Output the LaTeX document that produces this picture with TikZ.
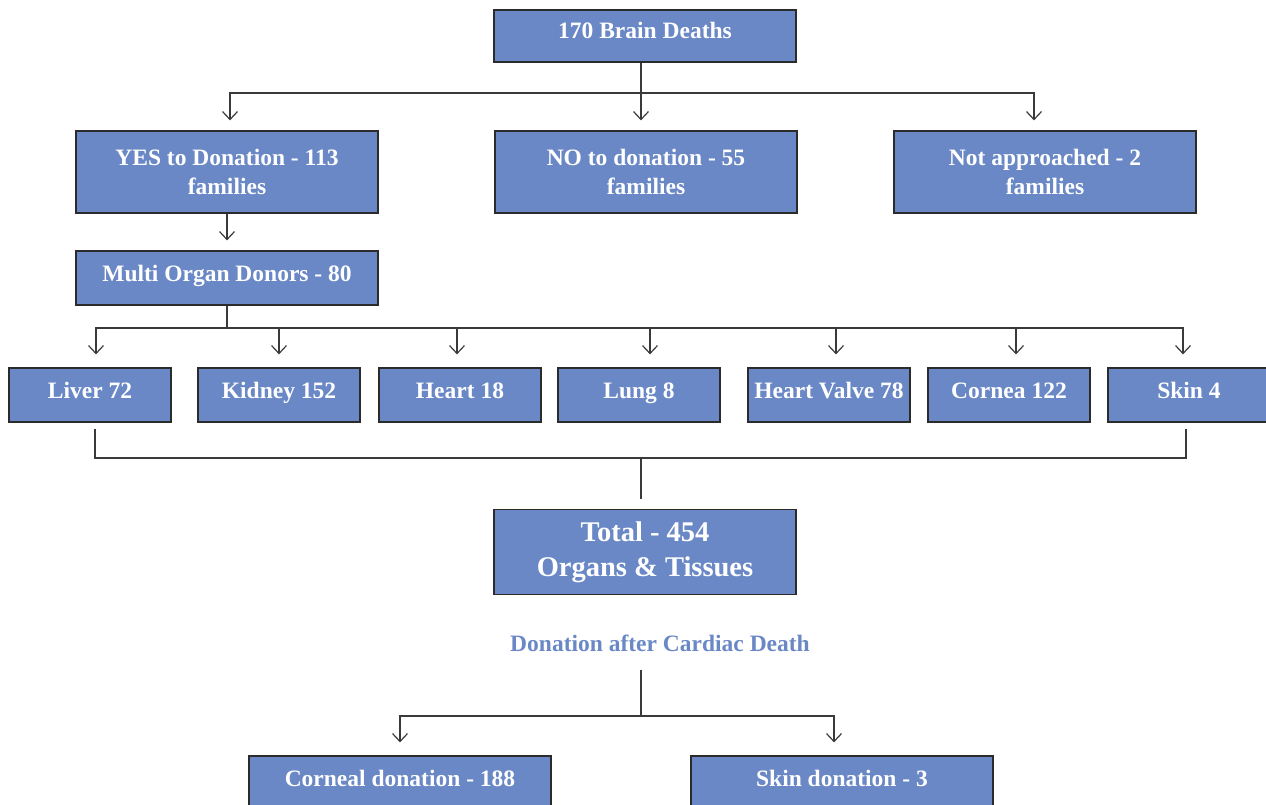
\documentclass[tikz,border=0pt]{standalone}
\usepackage{fontspec}
\setmainfont{Liberation Serif}
\usetikzlibrary{arrows.meta}
\definecolor{boxblue}{HTML}{6A88C6}
\definecolor{linegray}{HTML}{3A3A3A}
\definecolor{edgegray}{HTML}{2B2B2B}
\begin{document}
\begin{tikzpicture}[x=1pt,y=-1pt,
  box/.style={draw=edgegray, line width=1.2pt, fill=boxblue, text=white,
    font=\bfseries\fontsize{23.5}{29}\selectfont, minimum width=302pt,
    minimum height=54pt, inner sep=0pt, align=center},
  one/.style={box, text height=16pt, text depth=10pt},
  small/.style={one, minimum width=162pt},
  conn/.style={draw=linegray, line width=1.2pt},
  arr/.style={conn, -{Straight Barb[length=8pt,width=15pt]}}]
\useasboundingbox (0,0) rectangle (1266,805);
\clip (0,0) rectangle (1266,805);

% row 1
\node[one, minimum height=52pt] (brain) at (645,36) {170 Brain Deaths};
% row 2
\node[box, minimum height=82pt] (yes) at (227,172) {YES to Donation - 113\\families};
\node[box, minimum height=82pt] (no) at (646,172) {NO to donation - 55\\families};
\node[box, minimum height=82pt] (nap) at (1045,172) {Not approached - 2\\families};
% row 3
\node[one] (multi) at (227,278) {Multi Organ Donors - 80};
% row 4
\node[small] (liver) at (90,395) {Liver 72};
\node[small] (kidney) at (279,395) {Kidney 152};
\node[small] (heart) at (460,395) {Heart 18};
\node[small] (lung) at (639,395) {Lung 8};
\node[small] (valve) at (829,395) {Heart Valve 78};
\node[small] (cornea) at (1009,395) {Cornea 122};
\node[small] (skin) at (1189,395) {Skin 4};
% total
\node[box, minimum height=85pt, font=\bfseries\fontsize{28.5}{35}\selectfont] (total) at (645,552) {Total - 454\\Organs \& Tissues};
% DCD
\node[text=boxblue, font=\bfseries\fontsize{23.5}{29}\selectfont, inner sep=0pt] (dcd) at (660,643) {Donation after Cardiac Death};
\node[one] (corneal) at (400,783) {Corneal donation - 188};
\node[one] (skind) at (842,783) {Skin donation - 3};

% connectors
\coordinate (j1) at (641,93);
\draw[arr, shorten >=10pt] (j1 |- brain.south) -- (j1 |- no.north);
\draw[arr, shorten >=10pt] (j1) -| ([xshift=3pt]yes.north);
\draw[arr, shorten >=10pt] (j1) -| ([xshift=-11pt]nap.north);

\draw[arr, shorten >=10pt] (yes.south) -- (multi.north);

\coordinate (j2) at (227,328);
\draw[conn] (multi.south) -- (j2);
\draw[arr, shorten >=13pt] (j2) -| ([xshift=6pt]liver.north);
\draw[arr, shorten >=13pt] (j2) -| (kidney.north);
\draw[arr, shorten >=13pt] (j2) -| ([xshift=-3pt]heart.north);
\draw[arr, shorten >=13pt] (j2) -| ([xshift=11pt]lung.north);
\draw[arr, shorten >=13pt] (j2) -| ([xshift=7pt]valve.north);
\draw[arr, shorten >=13pt] (j2) -| ([xshift=7pt]cornea.north);
\draw[arr, shorten >=13pt] (j2) -| ([xshift=-6pt]skin.north);

\coordinate (j3) at (641,458);
\draw[conn] ([xshift=5pt,yshift=-6pt]liver.south) |- (j3);
\draw[conn] ([xshift=-3pt,yshift=-6pt]skin.south) |- (j3);
\draw[conn] (j3) -- ([xshift=-4pt,yshift=10pt]total.north);

\coordinate (j4top) at (641,670);
\coordinate (j4) at (641,716);
\draw[conn] (j4top) -- (j4);
\draw[arr, shorten >=13pt] (j4) -| (corneal.north);
\draw[arr, shorten >=13pt] (j4) -| ([xshift=-8pt]skind.north);
\end{tikzpicture}
\end{document}
